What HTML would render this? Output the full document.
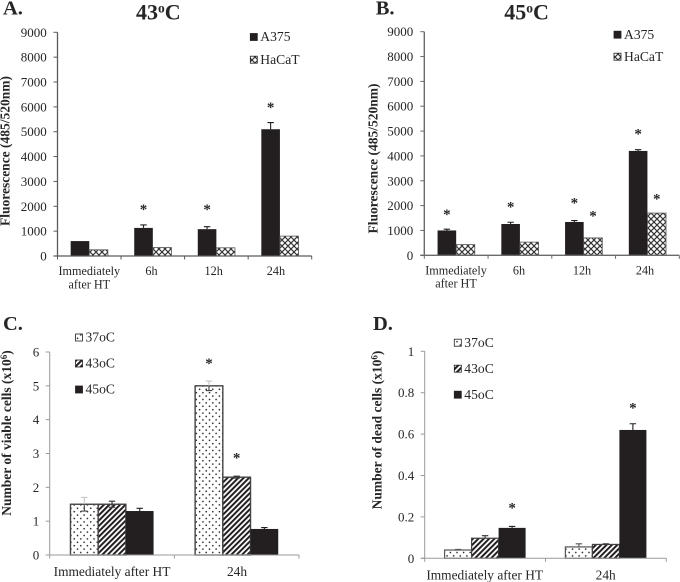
<!DOCTYPE html>
<html>
<head>
<meta charset="utf-8">
<title>Fluorescence and cell counts after heat treatment</title>
<style>
html,body{margin:0;padding:0;background:#fff;}
svg{display:block;font-family:"Liberation Serif",serif;filter:blur(0.35px);}
text{fill:#262626;}
</style>
</head>
<body>
<svg id="figure" width="680" height="582" viewBox="0 0 680 582" xmlns="http://www.w3.org/2000/svg">
<defs>
<pattern id="cross" patternUnits="userSpaceOnUse" width="6" height="6">
<rect width="6" height="6" fill="#fff"/>
<path d="M0 0L6 6M6 0L0 6" stroke="#333" stroke-width="1.15"/>
</pattern>
<pattern id="dots" patternUnits="userSpaceOnUse" width="6.6" height="6.8">
<rect width="6.6" height="6.8" fill="#fff"/>
<circle cx="1.6" cy="1.7" r="0.8" fill="#231f20"/>
<circle cx="4.9" cy="5.1" r="0.8" fill="#231f20"/>
</pattern>
<pattern id="stripes" patternUnits="userSpaceOnUse" width="3.8" height="3.8" patternTransform="rotate(45)">
<rect width="3.8" height="3.8" fill="#fff"/>
<rect width="2" height="3.8" fill="#231f20"/>
</pattern>
</defs>

<text x="3" y="14.7" font-size="20.5" font-weight="bold">A.</text>
<text x="375.7" y="14.7" font-size="20.5" font-weight="bold">B.</text>
<text x="3" y="330" font-size="20.5" font-weight="bold">C.</text>
<text x="373" y="330" font-size="20.5" font-weight="bold">D.</text>

<text x="136" y="19.3" font-size="22" font-weight="bold">43<tspan dy="-7" font-size="13.5">o</tspan><tspan dy="7">C</tspan></text>
<text x="504.3" y="19.3" font-size="22" font-weight="bold">45<tspan dy="-7" font-size="13.5">o</tspan><tspan dy="7">C</tspan></text>

<text transform="translate(9.5 151) rotate(-90)" text-anchor="middle" font-size="13.5" font-weight="bold">Fluorescence (485/520nm)</text>
<text transform="translate(377.5 158.5) rotate(-90)" text-anchor="middle" font-size="13.5" font-weight="bold">Fluorescence (485/520nm)</text>
<text transform="translate(11 433) rotate(-90)" text-anchor="middle" font-size="13.5" font-weight="bold">Number of viable cells (x10<tspan dy="-4" font-size="9">6</tspan><tspan dy="4">)</tspan></text>
<text transform="translate(381.5 430) rotate(-90)" text-anchor="middle" font-size="13.5" font-weight="bold">Number of dead cells (x10<tspan dy="-4" font-size="9">6</tspan><tspan dy="4">)</tspan></text>
</svg>

<script>
// ---- Data ----
const fluorTicks = ['0','1000','2000','3000','4000','5000','6000','7000','8000','9000'];
const viableTicks = ['0','1','2','3','4','5','6'];
const deadTicks = ['0','0.2','0.4','0.6','0.8','1'];

const fourCategories = [['Immediately','after HT'],['6h'],['12h'],['24h']];
const twoCategories = [['Immediately after HT'],['24h']];

const panelAA375 = [600,1130,1080,5100];
const panelAA375Err = [0,120,100,270];
const panelAA375Stars = [null,1970,1970,6070];
const panelAHaCaT = [250,340,330,800];
const panelAHaCaTErr = [0,0,0,0];
const panelAHaCaTStars = [null,null,null,null];

const panelBA375 = [1000,1260,1340,4200];
const panelBA375Err = [50,70,60,50];
const panelBA375Stars = [1743,2045,2198,4976];
const panelBHaCaT = [430,530,700,1700];
const panelBHaCaTErr = [0,0,0,0];
const panelBHaCaTStars = [null,null,1675,2359];

const panelC37 = [1.5,5.0];
const panelC37Err = [0.2,0.14];
const panelC37Stars = [null,5.73];
const panelC43 = [1.5,2.3];
const panelC43Err = [0.09,0.03];
const panelC43Stars = [null,2.93];
const panelC45 = [1.3,0.77];
const panelC45Err = [0.08,0.04];
const panelC45Stars = [null,null];

const panelD37 = [0.04,0.055];
const panelD37Err = [0.003,0.015];
const panelD37Stars = [null,null];
const panelD43 = [0.097,0.067];
const panelD43Err = [0.012,0.003];
const panelD43Stars = [null,null];
const panelD45 = [0.147,0.62];
const panelD45Err = [0.007,0.03];
const panelD45Stars = [0.254,0.736];

// ---- Drawing ----
const NS = 'http://www.w3.org/2000/svg';
const root = document.getElementById('figure');
const INK = '#231f20';

function mk(tag, attrs, text) {
  const el = document.createElementNS(NS, tag);
  for (const k in attrs) el.setAttribute(k, attrs[k]);
  if (text !== undefined) el.textContent = text;
  return el;
}

function drawPanel(p) {
  const yMax = parseFloat(p.ticks[p.ticks.length - 1]);
  const yAxis = v => p.y0 - (v / yMax) * (p.y0 - p.yTop);
  const pitch = (p.xEnd - p.x0) / p.categories.length;
  const groupCenter = i => p.x0 + pitch * (i + 0.5);

  const g = mk('g', {});
  
  
  root.appendChild(g);

  // bars, whiskers and stars
  const total = p.series.length * p.barW;
  p.series.forEach((s, si) => {
    s.values.forEach((v, i) => {
      const left = groupCenter(i) - total / 2 + si * p.barW;
      const cx = left + p.barW / 2;
      const top = yAxis(v);
      const bar = mk('rect', {
        x: left, y: top, width: p.barW, height: p.y0 - top,
        fill: s.fill, stroke: s.stroke, 'stroke-width': s.fill === INK ? 0 : p.barStroke
      });
      
      
      g.appendChild(bar);

      const e = s.err[i];
      if (e > 0) {
        const hi = yAxis(v + e);
        const whisker = mk('path', {
          d: 'M' + cx + ' ' + top + 'V' + hi + 'M' + (cx - 3.2) + ' ' + hi + 'H' + (cx + 3.2),
          stroke: s.errColor, 'stroke-width': 1.1, fill: 'none'
        });
        
        
        g.appendChild(whisker);
        if (s.lower) {
          const lo = yAxis(v - e);
          const lowerWhisker = mk('path', {
            d: 'M' + cx + ' ' + top + 'V' + lo + 'M' + (cx - 3.2) + ' ' + lo + 'H' + (cx + 3.2),
            stroke: '#444', 'stroke-width': 1.1, fill: 'none'
          });
          
          
          g.appendChild(lowerWhisker);
        }
      }

      const star = s.stars[i];
      if (star !== null) {
        const mark = mk('text', {
          x: cx, y: yAxis(star) + 6.8, 'text-anchor': 'middle', 'font-size': 15, 'font-weight': 'bold'
        }, '*');
        
        
        g.appendChild(mark);
      }
    });
  });

  // axes
  const axisY = mk('line', { x1: p.x0, x2: p.x0, y1: p.yTop, y2: p.y0, stroke: p.axisColor, 'stroke-width': p.axisW });
  
  
  g.appendChild(axisY);

  const axisX = mk('line', { x1: p.x0 - 4, x2: p.xEnd, y1: p.y0, y2: p.y0, stroke: p.axisColor, 'stroke-width': p.axisW });
  
  
  g.appendChild(axisX);

  p.ticks.forEach(t => {
    const y = yAxis(parseFloat(t));
    const tick = mk('line', { x1: p.x0 - 4, x2: p.x0, y1: y, y2: y, stroke: p.axisColor, 'stroke-width': 1 });
    
    
    g.appendChild(tick);
    const label = mk('text', {
      x: p.x0 - p.tickGap, y: y + 4.5, 'text-anchor': 'end', 'font-size': 13
    }, t);
    
    
    g.appendChild(label);
  });

  for (let i = 0; i <= p.categories.length; i++) {
    const x = p.x0 + pitch * i;
    const tick = mk('line', { x1: x, x2: x, y1: p.y0, y2: p.y0 + 3.5, stroke: p.axisColor, 'stroke-width': 1 });
    
    
    g.appendChild(tick);
  }

  p.categories.forEach((lines, i) => {
    lines.forEach((line, li) => {
      const label = mk('text', {
        x: p.labelFirst + p.labelPitch * i,
        y: p.y0 + p.labelDrop + li * 13.3,
        'text-anchor': 'middle', 'font-size': p.labelSize
      }, line);
      
      
      g.appendChild(label);
    });
  });

  // legend
  p.series.forEach((s, si) => {
    const ly = p.legendY + si * p.legendStep;
    const swatch = mk('rect', {
      x: p.legendX, y: ly - 7, width: 7, height: 7,
      fill: s.fill, stroke: INK, 'stroke-width': 0.8
    });
    
    
    g.appendChild(swatch);
    const label = mk('text', {
      x: p.legendX + 10, y: ly + 0.6, 'font-size': 13.6
    }, s.label);
    
    
    g.appendChild(label);
  });
}

drawPanel({
  id: 'a', ticks: fluorTicks, categories: fourCategories,
  x0: 57.5, xEnd: 311.7, y0: 256, yTop: 32.3, barW: 18.6, barStroke: 0.8,
  axisColor: '#5a5a5a', axisW: 1.3, tickGap: 10.8, labelFirst: 89.3, labelPitch: 62.2, labelDrop: 19, labelSize: 12.2,
  legendX: 250.3, legendY: 40.5, legendStep: 22.7,
  series: [
    { name: 'a375', label: 'A375', values: panelAA375, err: panelAA375Err, stars: panelAA375Stars, fill: INK, stroke: INK, errColor: INK },
    { name: 'hacat', label: 'HaCaT', values: panelAHaCaT, err: panelAHaCaTErr, stars: panelAHaCaTStars, fill: 'url(#cross)', stroke: '#555', errColor: INK }
  ]
});

drawPanel({
  id: 'b', ticks: fluorTicks, categories: fourCategories,
  x0: 424.3, xEnd: 679.3, y0: 255.3, yTop: 31.7, barW: 18.6, barStroke: 0.8,
  axisColor: '#6a6a6a', axisW: 1.4, tickGap: 11, labelFirst: 456, labelPitch: 63, labelDrop: 19, labelSize: 12.2,
  legendX: 614, legendY: 38.2, legendStep: 22,
  series: [
    { name: 'a375', label: 'A375', values: panelBA375, err: panelBA375Err, stars: panelBA375Stars, fill: INK, stroke: INK, errColor: INK },
    { name: 'hacat', label: 'HaCaT', values: panelBHaCaT, err: panelBHaCaTErr, stars: panelBHaCaTStars, fill: 'url(#cross)', stroke: '#555', errColor: INK }
  ]
});

drawPanel({
  id: 'c', ticks: viableTicks, categories: twoCategories,
  x0: 49.7, xEnd: 299, y0: 555, yTop: 352, barW: 27.7, barStroke: 1.4,
  axisColor: '#9a9a9a', axisW: 1, tickGap: 10.5, labelFirst: 112, labelPitch: 125, labelDrop: 21, labelSize: 13.4,
  legendX: 75.5, legendY: 341, legendStep: 26,
  series: [
    { name: '37c', label: '37oC', values: panelC37, err: panelC37Err, stars: panelC37Stars, fill: 'url(#dots)', stroke: '#444', errColor: '#c4c4c4', lower: true },
    { name: '43c', label: '43oC', values: panelC43, err: panelC43Err, stars: panelC43Stars, fill: 'url(#stripes)', stroke: '#444', errColor: '#333', lower: true },
    { name: '45c', label: '45oC', values: panelC45, err: panelC45Err, stars: panelC45Stars, fill: INK, stroke: INK, errColor: INK }
  ]
});

drawPanel({
  id: 'd', ticks: deadTicks, categories: twoCategories,
  x0: 424.7, xEnd: 666.3, y0: 558.3, yTop: 351.3, barW: 27, barStroke: 1.2,
  axisColor: '#9a9a9a', axisW: 1, tickGap: 10.5, labelFirst: 484.7, labelPitch: 121, labelDrop: 21, labelSize: 13.4,
  legendX: 454.3, legendY: 346.2, legendStep: 26,
  series: [
    { name: '37c', label: '37oC', values: panelD37, err: panelD37Err, stars: panelD37Stars, fill: 'url(#dots)', stroke: '#555', errColor: '#555' },
    { name: '43c', label: '43oC', values: panelD43, err: panelD43Err, stars: panelD43Stars, fill: 'url(#stripes)', stroke: '#444', errColor: '#333' },
    { name: '45c', label: '45oC', values: panelD45, err: panelD45Err, stars: panelD45Stars, fill: INK, stroke: INK, errColor: INK }
  ]
});
</script>
</body>
</html>
